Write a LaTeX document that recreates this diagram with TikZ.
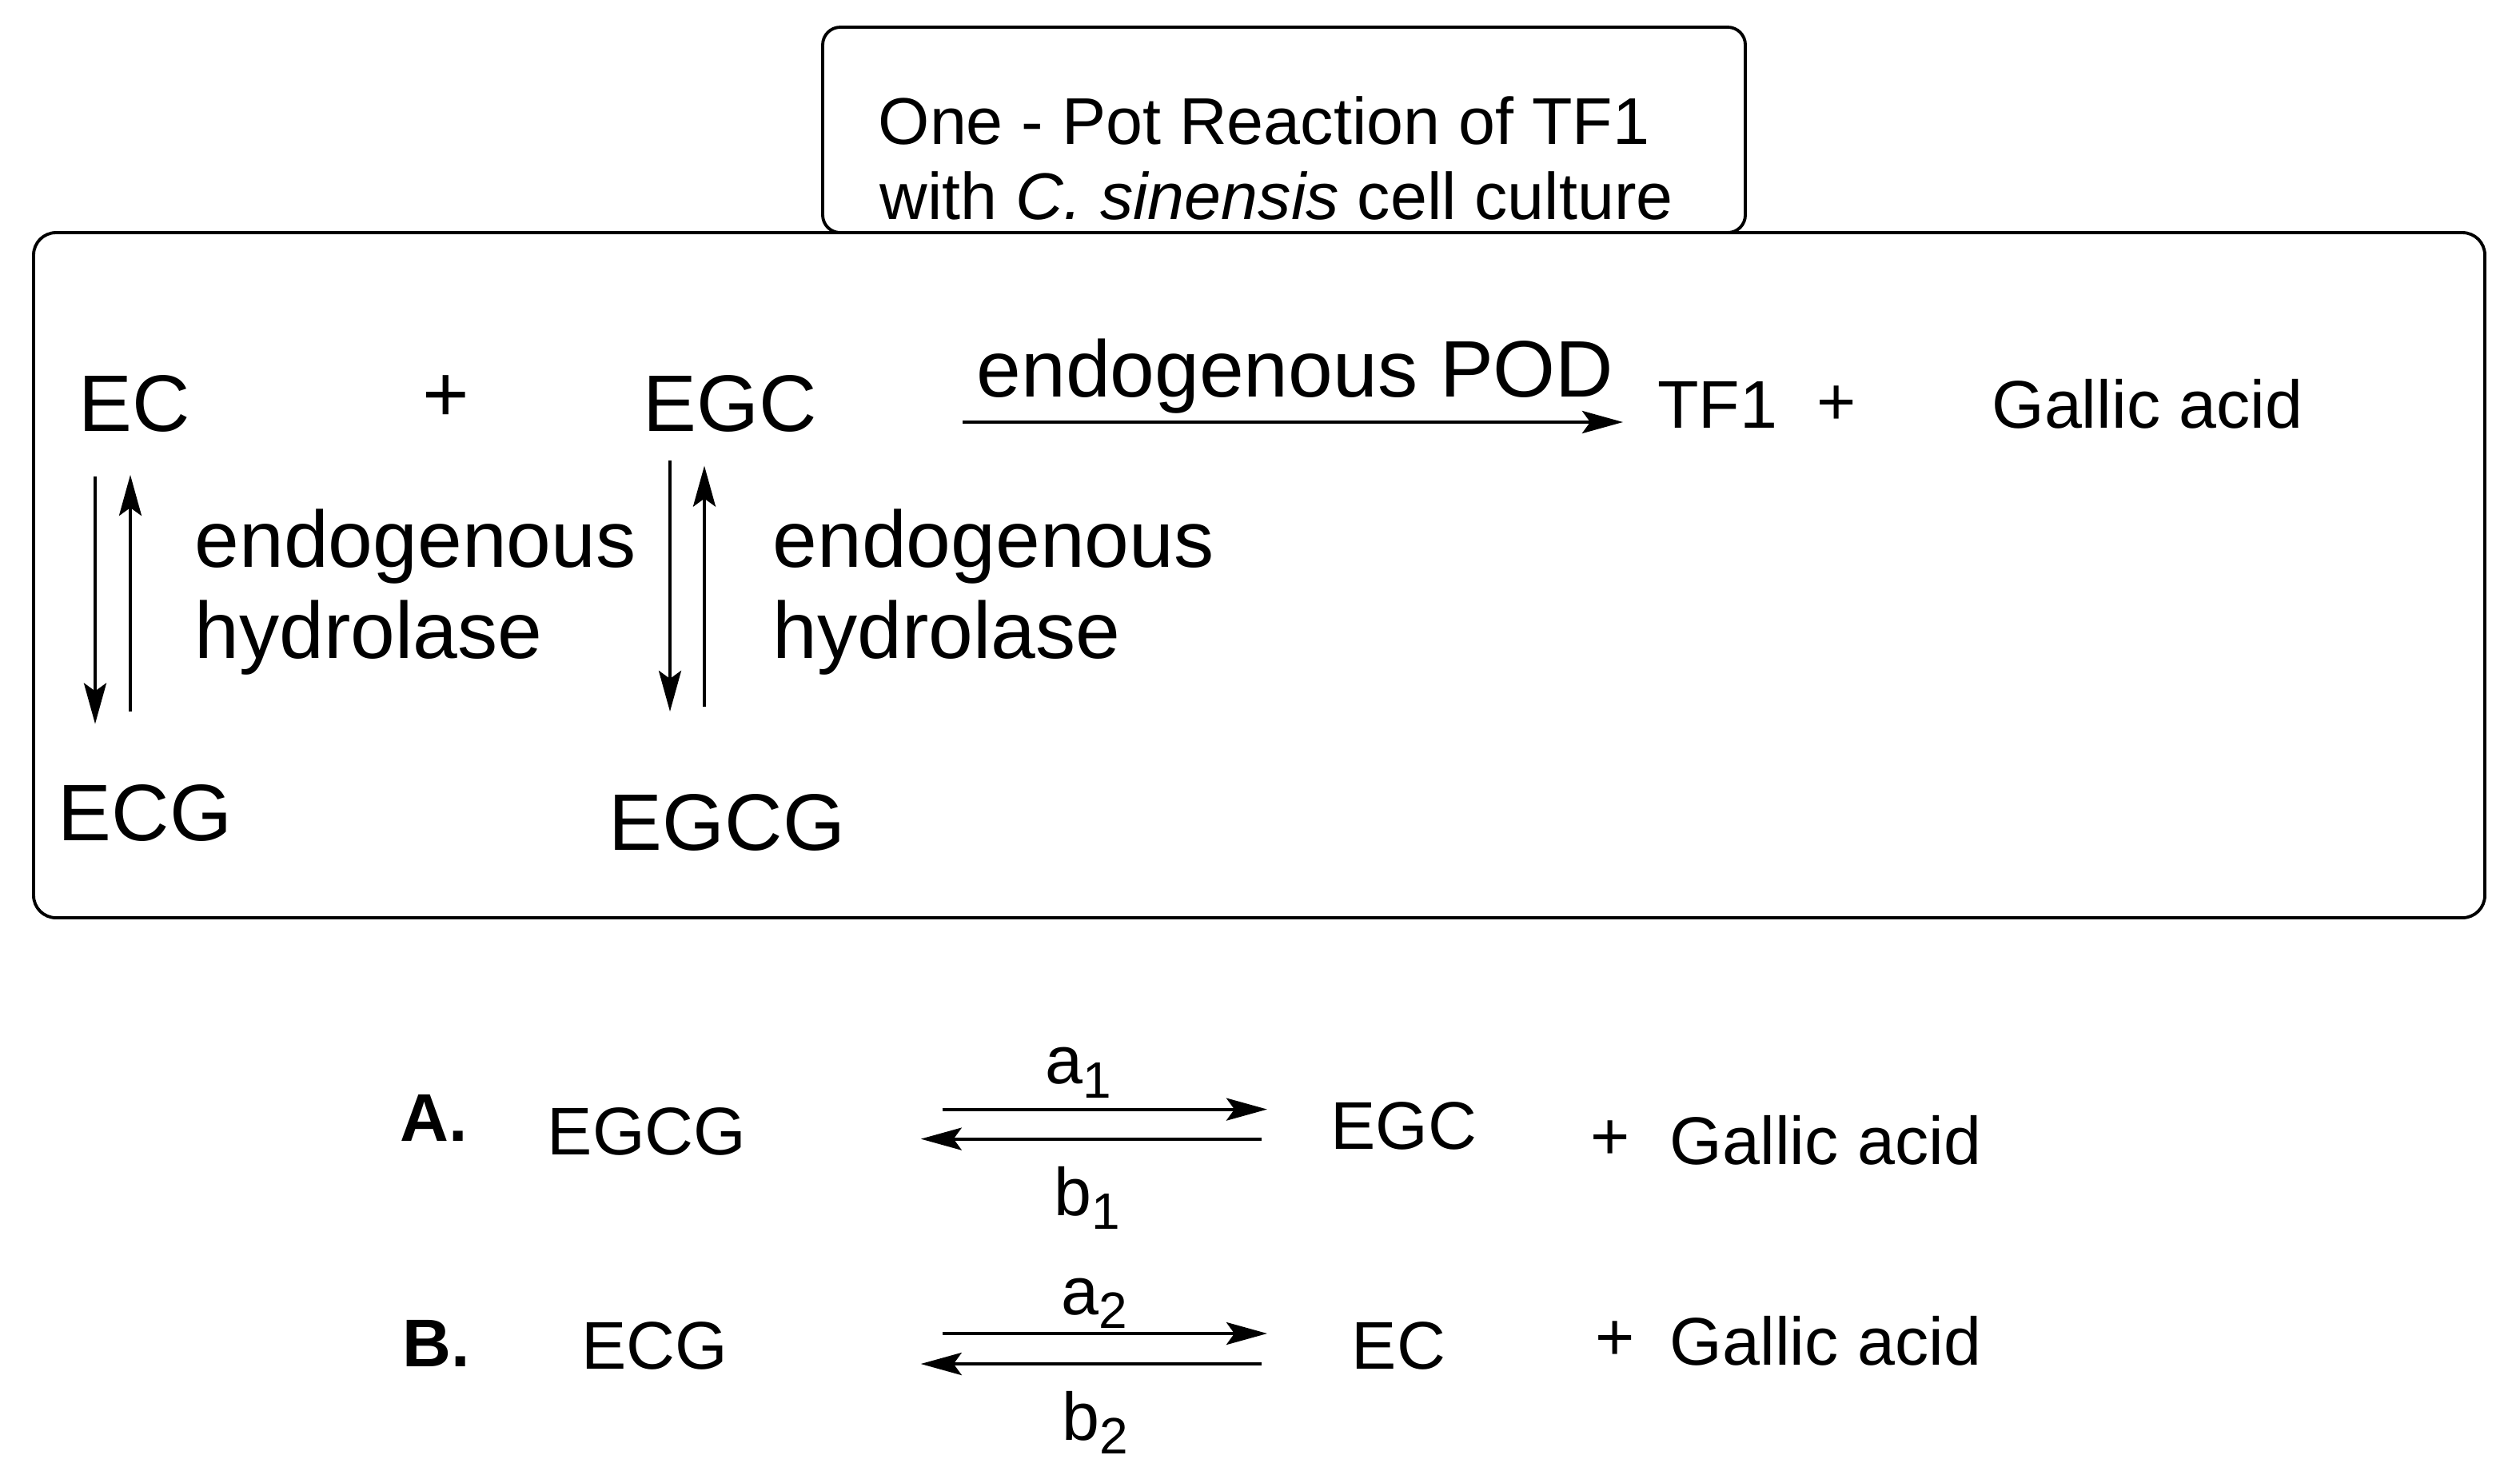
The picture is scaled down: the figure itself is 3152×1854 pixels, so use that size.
\documentclass[tikz,border=0pt]{standalone}
\usepackage{fontspec}
\setmainfont{Liberation Sans}
\usetikzlibrary{arrows.meta}
\newcommand{\lowidx}[1]{\raisebox{-0.21em}{\fontsize{18.2}{18.2}\selectfont #1}}
\begin{document}
\begin{tikzpicture}[x=0.01cm, y=-0.01cm,
    big/.style={font=\fontsize{28.5}{32.4}\selectfont, inner sep=0pt, anchor=base},
    small/.style={font=\fontsize{24}{26.9}\selectfont, inner sep=0pt, anchor=base},
    frame/.style={line width=1.1pt, rounded corners=2.8mm},
    rxn/.style={line width=1.2pt, -{Stealth[length=5.1mm, width=2.8mm, inset=1mm]}}]
  \useasboundingbox (0,0) rectangle (3152,1854);
  \draw[frame] (42,291) rectangle (3108,1148);
  \draw[frame, rounded corners=2.2mm] (1029,34) rectangle (2183,291);
  \node[small, font=\fontsize{23.5}{26.9}\selectfont, anchor=base west] (title1) at (1098,180) {One - Pot Reaction of TF1};
  \node[small, font=\fontsize{23.5}{26.9}\selectfont, anchor=base west] (title2) at (1100,274.5) {with \textit{C. sinensis} cell culture};
  % one-pot reaction
  \node[big] (EC) at (168,539) {EC};
  \node[big] (plus1) at (558,527) {+};
  \node[big] (EGC) at (913,539) {EGC};
  \node[big] (POD) at (1620,496.4) {endogenous POD};
  \node[small] (TF1) at (2148,535.7) {TF1};
  \node[small] (plus2) at (2297,531) {+};
  \node[small] (gallic) at (2686,535.7) {Gallic acid};
  \node[big] (ECG) at (181.5,1051) {ECG};
  \node[big] (EGCG) at (909.5,1063.6) {EGCG};
  \node[big, anchor=base west, align=left] (hydL) at (243,823) {endogenous\\hydrolase};
  \node[big, anchor=base west, align=left] (hydR) at (966,823) {endogenous\\hydrolase};
  \coordinate (ECd) at (119,596);   \coordinate (ECGd) at (119,905.5);
  \coordinate (ECGu) at (163,890);  \coordinate (ECu) at (163,594);
  \coordinate (EGCd) at (838,576);  \coordinate (EGCGd) at (838,890);
  \coordinate (EGCGu) at (881,883.6); \coordinate (EGCu) at (881,582.6);
  \coordinate (PODs) at (1204,528); \coordinate (PODe) at (2030,528);
  \draw[rxn] (ECd) -- (ECGd);
  \draw[rxn] (ECGu) -- (ECu);
  \draw[rxn] (EGCd) -- (EGCGd);
  \draw[rxn] (EGCGu) -- (EGCu);
  \draw[rxn] (PODs) -- (PODe);
  % equilibria A and B
  \node[small] (labA) at (543,1427.7) {\textbf{A.}};
  \node[small] (EGCGa) at (809,1444) {EGCG};
  \node[small] (EGCa) at (1756,1437) {EGC};
  \node[small] (plusA) at (2014,1450) {+};
  \node[small] (gallicA) at (2283.5,1456.4) {Gallic acid};
  \node[small] (a1) at (1348.5,1355.4) {a\lowidx{1}};
  \node[small] (b1) at (1360,1520) {b\lowidx{1}};
  \node[small] (labB) at (546,1709) {\textbf{B.}};
  \node[small] (ECGb) at (819,1712.7) {ECG};
  \node[small] (ECb) at (1749.5,1712) {EC};
  \node[small] (plusB) at (2020,1701) {+};
  \node[small] (gallicB) at (2283.5,1707) {Gallic acid};
  \node[small] (a2) at (1368.5,1644) {a\lowidx{2}};
  \node[small] (b2) at (1369.5,1801) {b\lowidx{2}};
  \coordinate (A1s) at (1178.5,1387.6); \coordinate (A1e) at (1585,1387.6);
  \coordinate (A2s) at (1577.6,1424.6); \coordinate (A2e) at (1151.7,1424.6);
  \coordinate (B1s) at (1178.5,1668);   \coordinate (B1e) at (1585,1668);
  \coordinate (B2s) at (1577.6,1706);   \coordinate (B2e) at (1151.7,1706);
  \draw[rxn] (A1s) -- (A1e);
  \draw[rxn] (A2s) -- (A2e);
  \draw[rxn] (B1s) -- (B1e);
  \draw[rxn] (B2s) -- (B2e);
\end{tikzpicture}
\end{document}
